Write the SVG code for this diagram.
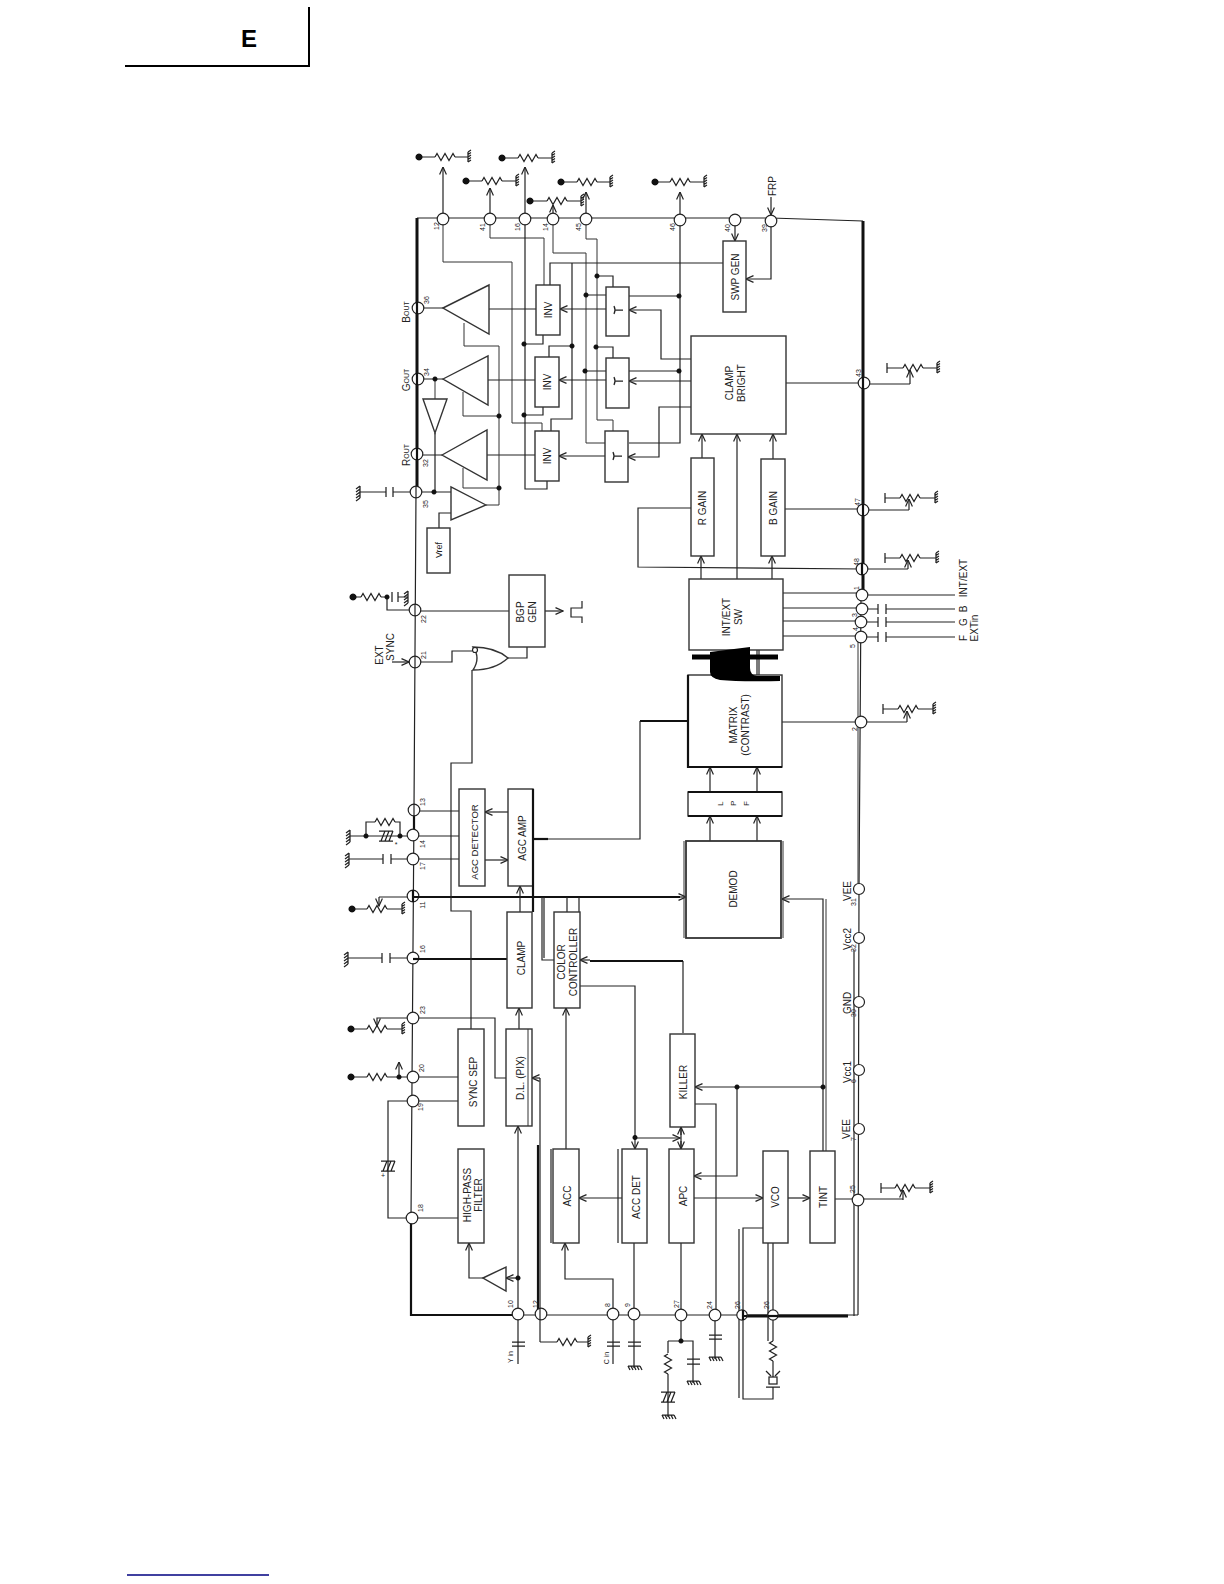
<svg xmlns="http://www.w3.org/2000/svg" xmlns:xlink="http://www.w3.org/1999/xlink" width="1224" height="1584" viewBox="0 0 1224 1584">
<style>
text{font-family:"Liberation Sans",Arial,sans-serif;fill:#222;text-anchor:middle;dominant-baseline:central;font-size:10px}
.n{font-size:7px}
.w,.a,.k,.f,.t{fill:none;stroke:#222;stroke-width:1.2}
.a{marker-end:url(#ar)}
.k{stroke-width:2.2;stroke:#111}
.t{stroke-width:3;stroke:#111}
.f{stroke-width:1;stroke:#333}
.b{fill:#fff;stroke:#333;stroke-width:1.4}
.p{fill:#fff;stroke:#222;stroke-width:1.2}
.d{fill:#111;stroke:none}
.s{fill:none;stroke:#222;stroke-width:1.25}
</style>
<defs>
<marker id="ar" markerUnits="userSpaceOnUse" viewBox="0 0 9 8" refX="8.5" refY="4" markerWidth="9" markerHeight="8" orient="auto"><path d="M1,.6 L8.5,4 L1,7.4" fill="none" stroke="#222" stroke-width="1.2"/></marker>
<path id="rz" class="s" d="M0,0 l2,-3.5 l4,7 l4,-7 l4,7 l4,-7 l2,3.5"/>
<path id="rv" class="s" d="M0,0 l-3.5,2 l7,4 l-7,4 l7,4 l-7,4 l3.5,2"/>
<path id="gr" class="s" d="M0,-5 V5 M0,-5 l3,-2 M0,-2.5 l3,-2 M0,0 l3,-2 M0,2.5 l3,-2 M0,5 l3,-2"/>
<path id="gl" class="s" d="M0,-6 V6 M0,-6 l-4,3 M0,-3 l-4,3 M0,0 l-4,3 M0,3 l-4,3 M0,6 l-4,3"/>
<path id="gb" class="s" d="M-6,0 H6 M-6,0 l2,4 M-3,0 l2,4 M0,0 l2,4 M3,0 l2,4 M6,0 l2,4"/>
<path id="hc" class="s" d="M-7,-5 H7 M-7,5 H7 M-5,5 L-1,-5 M-1,5 L3,-5 M3,5 L7,-5"/>
<path id="ts" class="s" d="M-4,-4 q2,4 0,8 M-3,0 H5"/>
<path id="tb" class="s" d="M0,-5 V5"/>
</defs>

<g id="header"><path d="M125,66 H309 V7" fill="none" stroke="#000" stroke-width="2"/><text x="249" y="38" style="font-size:24px;font-weight:bold;fill:#000">E</text></g>
<path id="footer-line" d="M127,1575 H269" fill="none" stroke="#000080" stroke-width="1.5"/>

<g id="connectors">
<!-- rails -->
<path class="w" d="M417,218 H771 L863,221"/>
<path class="t" d="M417,218 V492"/>
<path class="w" d="M416,492 L414,810 L411,1218 V1315 H858"/>
<path class="k" d="M414,810 V835 M411,1218 V1315 H520"/>
<path class="t" d="M863,221 V595"/>
<path class="w" d="M861,595 L859,889 L858,1315"/>
<path class="f" d="M858,640 V889"/>
<path class="t" d="M742,1316 H848"/>
<path class="w" d="M854,950 V1316"/>
<!-- top pin resistors -->
<path class="a" d="M443,219 V167"/><path class="w" d="M419,157 H435 M455,157 H468"/>
<path class="a" d="M490,219 V188"/><path class="w" d="M466,181 H482 M502,181 H516"/>
<path class="a" d="M525,219 V167"/><path class="w" d="M502,158 H518 M538,158 H552"/>
<path class="a" d="M553,219 V205"/><path class="w" d="M530,201 H547 M567,201 H581"/>
<path class="a" d="M586,219 V192"/><path class="w" d="M561,182 H577 M597,182 H610"/>
<path class="a" d="M680,220 V192"/><path class="w" d="M655,182 H670 M690,182 H704"/>
<path class="a" d="M771,197 V215"/>
<!-- top pin wiring -->
<path class="f" d="M443,219 V262 H512 V423 H542 V431"/>
<path class="f" d="M490,219 V238 H544 V285"/>
<path class="w" d="M525,219 V489 H547 V481"/>
<path class="w" d="M524,344 H543 V335 M524,415 H543 V407"/>
<path class="f" d="M553,219 V253 H586 V443 H605"/>
<path class="w" d="M586,295 H606 M585,371 H606"/>
<path class="f" d="M586,219 V239 H597 V420 H613 V431"/>
<path class="w" d="M597,276 H613 V287 M596,347 H613 V358"/>
<path class="w" d="M550,285 V263 H723"/>
<path class="w" d="M572,263 V419 H551 V431 M572,346 H549 V357"/>
<path class="w" d="M489,309 H536 M488,380 H535 M487,455 H535"/>
<path class="f" d="M464,323 V346 H499 V505 H486 M463,392 V416 H499 M463,468 V488 H499"/>
<path class="w" d="M418,308 H443 M418,379 H443 M417,455 H442"/>
<path class="f" d="M435,379 V399"/>
<path class="w" d="M435,433 V492 M416,492 H451 M439,528 V513 H451"/>
<path class="w" d="M360,492 H386 M393,492 H416"/>
<use href="#tb" x="386" y="492"/><use href="#tb" x="393" y="492"/><use href="#gl" x="360" y="492"/>
<path class="a" d="M606,309 H560"/><path class="a" d="M606,380 H559"/><path class="a" d="M605,456 H559"/>
<path class="a" d="M691,359 H661 V310 H629"/>
<path class="a" d="M691,381 H629"/>
<path class="a" d="M691,407 H659 V457 H628"/>
<path class="w" d="M680,220 V443 H629 M679,296 H629 M679,371 H629"/>
<path class="a" d="M735,220 V241"/>
<path class="a" d="M771,221 V279 H746"/>
<!-- right side resistors -->
<path class="w" d="M786,383 H864 M864,384 H910"/><path class="a" d="M910,384 V370"/><path class="w" d="M887,368 H903 M923,368 H937"/>
<path class="w" d="M785,509 H863 M863,510 H909"/><path class="a" d="M909,510 V499"/><path class="w" d="M885,498 H900 M920,498 H935"/>
<path class="w" d="M691,508 H638 V567 L862,569 H908"/><path class="a" d="M908,569 V560"/><path class="w" d="M885,558 H900 M920,558 H936"/>
<path class="w" d="M782,722 H861 H907"/><path class="a" d="M907,722 V711"/><path class="w" d="M883,709 H898 M918,709 H933"/>
<path class="w" d="M835,1199 H858 H903"/><path class="a" d="M903,1200 V1190"/><path class="w" d="M881,1188 H895 M915,1188 H930"/>
<path class="a" d="M702,458 V434"/><path class="a" d="M737,579 V434"/><path class="a" d="M773,459 V434"/>
<path class="a" d="M701,579 V556"/><path class="a" d="M772,579 V556"/>
<path class="w" d="M783,593 H862 M862,595 H955"/>
<path class="w" d="M783,608 H862 M862,609 H878 M886,609 H955"/>
<path class="w" d="M783,621 H861 M861,622 H878 M886,622 H955"/>
<path class="w" d="M783,636 H861 M861,637 H878 M886,637 H955"/>
<use href="#tb" x="878" y="609"/><use href="#tb" x="886" y="609"/><use href="#tb" x="878" y="622"/><use href="#tb" x="886" y="622"/><use href="#tb" x="878" y="637"/><use href="#tb" x="886" y="637"/>
<!-- centre chain -->
<path class="a" d="M710,792 V767"/><path class="a" d="M757,792 V767"/>
<path class="a" d="M710,841 V816"/><path class="a" d="M757,841 V816"/>
<path class="k" d="M688,721 H640"/><path class="w" d="M640,721 V839 H533"/><path class="k" d="M533,839 H548"/>
<path class="k" d="M413,897 H680"/><path class="a" d="M680,897 H686"/>
<path class="w" d="M757,650 V675 M759,650 V675"/>
<path class="a" d="M823,1151 V899 H782"/>
<path class="f" d="M826,899 V1151"/>
<path class="a" d="M823,1087 H695"/>
<path class="a" d="M737,1087 V1176 H694"/>
<path class="w" d="M695,1104 H716 V1315"/>
<path class="w" d="M683,1033 V961"/><path class="k" d="M683,961 H590"/><path class="a" d="M590,960 H580"/>
<path class="w" d="M580,986 H635 V1137"/><path class="a" d="M635,1137 V1149"/>
<path class="a" d="M635,1138 H680"/>
<path class="a" d="M681,1135 V1127"/><path class="a" d="M681,1141 V1149"/><path class="w" d="M681,1127 V1149"/>
<path class="a" d="M622,1198 H579"/>
<path class="a" d="M566,1149 V1008"/>
<path class="a" d="M613,1314 V1279 H565 V1243"/>
<path class="w" d="M634,1243 V1314 M681,1243 V1315"/>
<path class="a" d="M694,1198 H763"/><path class="a" d="M788,1198 H810"/>
<path class="w" d="M768,1243 V1341 M773,1243 V1341"/>
<path class="w" d="M763,1228 H743 V1399 H773 V1387 M739,1229 V1398"/>
<path class="w" d="M773,1361 V1377"/>
<path class="s" d="M766,1371 L771,1376 M780,1371 L775,1376 M766,1387 H780"/>
<rect x="769" y="1377" width="8" height="7" class="s"/>
<use href="#rv" x="773" y="1341"/>
<!-- bottom pins -->
<path class="w" d="M518,1314 V1364 M613,1314 V1364 M634,1314 V1368 M715,1315 V1359 M681,1315 V1341 M668,1341 H693 V1383 M668,1341 V1353 M668,1374 V1417"/>
<path class="s" d="M512,1342 H525 M512,1346 H525 M607,1342 H620 M607,1346 H620 M628,1342 H641 M628,1346 H641 M709,1335 H722 M709,1339 H722 M687,1359 H700 M687,1364 H700"/>
<use href="#gb" x="634" y="1366"/><use href="#gb" x="715" y="1357"/><use href="#gb" x="693" y="1381"/><use href="#gb" x="668" y="1415"/>
<use href="#rv" x="668" y="1354"/><use href="#hc" x="668" y="1397"/>
<path class="a" d="M518,1314 V1126"/>
<path class="a" d="M518,1278 H506"/>
<path class="a" d="M483,1278 H469 V1243"/>
<path class="w" d="M540,1342 V1078"/><path class="a" d="M540,1078 H532"/><path class="k" d="M538,1145 V1310"/>
<path class="w" d="M540,1342 H557 M577,1342 H588"/><use href="#gr" x="588" y="1342"/>
<!-- left side -->
<path class="w" d="M412,1218 H458 M412,1218 H388 V1101 H413 H458"/>
<use href="#hc" x="388" y="1166"/>
<path class="w" d="M413,1077 H458 M351,1077 H367 M387,1077 H413"/><path class="a" d="M399,1077 V1062"/>
<path class="w" d="M413,1018 H495 V1078 H506 M351,1029 H367 M387,1029 H402"/><path class="a" d="M413,1018 H377 V1026"/>
<path class="w" d="M382,958 H348 M390,958 H413"/><path class="k" d="M413,959 H507"/>
<use href="#tb" x="382" y="958"/><use href="#tb" x="390" y="958"/><use href="#gl" x="348" y="958"/>
<path class="w" d="M413,897 H379"/><path class="a" d="M379,897 V906"/><path class="w" d="M352,909 H367 M387,909 H402"/>
<path class="w" d="M471,1029 V911 H451 V763 H472 V670"/>
<path class="w" d="M542,897 V960 H554 M544,897 V958"/>
<path class="w" d="M567,897 V912 M579,897 V912"/>
<path class="a" d="M520,912 V886"/>
<path class="a" d="M519,1029 V1008"/>
<path class="w" d="M413,859 H459 M349,859 H383 M391,859 H413"/><use href="#tb" x="383" y="859"/><use href="#tb" x="391" y="859"/><use href="#gl" x="349" y="859"/>
<path class="w" d="M414,811 H459 M413,836 H459 M350,836 H413 M366,836 V822 H375 M395,822 H400 V836"/>
<use href="#gl" x="350" y="836"/><use href="#hc" x="386" y="836"/>
<path class="a" d="M508,812 H485"/><path class="a" d="M485,860 H508"/>
<path class="w" d="M415,662 H452 V651 H472"/>
<path class="a" d="M392,662 H409"/>
<path class="w" d="M508,658 H527 V647"/>
<path class="w" d="M415,611 H509"/>
<path class="a" d="M545,611 H563"/>
<path class="w" d="M582,601 V608 H571 V617 H582 V623"/>
<path class="w" d="M353,597 H361 M381,597 H387 V610 H415 M398,597 H408"/>
<use href="#tb" x="392" y="597"/><use href="#tb" x="398" y="597"/><use href="#gl" x="408" y="597"/>
</g>

<g id="passives">
<use href="#rz" x="435" y="157"/><use href="#gr" x="468" y="157"/>
<use href="#rz" x="482" y="181"/><use href="#gr" x="516" y="181"/>
<use href="#rz" x="518" y="158"/><use href="#gr" x="552" y="158"/>
<use href="#rz" x="547" y="201"/><use href="#gr" x="581" y="201"/>
<use href="#rz" x="577" y="182"/><use href="#gr" x="610" y="182"/>
<use href="#rz" x="670" y="182"/><use href="#gr" x="704" y="182"/>
<use href="#rz" x="903" y="368"/><use href="#gr" x="937" y="368"/><use href="#tb" x="887" y="368"/>
<use href="#rz" x="900" y="498"/><use href="#gr" x="935" y="498"/><use href="#tb" x="885" y="498"/>
<use href="#rz" x="900" y="558"/><use href="#gr" x="936" y="558"/><use href="#tb" x="885" y="558"/>
<use href="#rz" x="898" y="709"/><use href="#gr" x="933" y="709"/><use href="#tb" x="883" y="709"/>
<use href="#rz" x="895" y="1188"/><use href="#gr" x="930" y="1188"/><use href="#tb" x="881" y="1188"/>
<use href="#rz" x="367" y="909"/><use href="#gr" x="402" y="909"/>
<use href="#rz" x="367" y="1029"/><use href="#gr" x="402" y="1029"/>
<use href="#rz" x="367" y="1077"/>
<use href="#rz" x="361" y="597"/>
<use href="#rz" x="375" y="822"/>
<use href="#rz" x="557" y="1342"/>
<path class="d" d="M419,153.5a3.5,3.5 0 1,0 .01,0z M466,177.5a3.5,3.5 0 1,0 .01,0z M502,154.5a3.5,3.5 0 1,0 .01,0z M530,197.5a3.5,3.5 0 1,0 .01,0z M561,178.5a3.5,3.5 0 1,0 .01,0z M655,178.5a3.5,3.5 0 1,0 .01,0z M353,593.5a3.5,3.5 0 1,0 .01,0z M352,905.5a3.5,3.5 0 1,0 .01,0z M351,1025.5a3.5,3.5 0 1,0 .01,0z M351,1073.5a3.5,3.5 0 1,0 .01,0z"/>
<path class="d" d="M387,594.5a2.5,2.5 0 1,0 .01,0z M366,833.5a2.5,2.5 0 1,0 .01,0z M400,833.5a2.5,2.5 0 1,0 .01,0z M399,1074.5a2.5,2.5 0 1,0 .01,0z M524,341.5a2.5,2.5 0 1,0 .01,0z M524,412.5a2.5,2.5 0 1,0 .01,0z M572,343.5a2.5,2.5 0 1,0 .01,0z M597,273.5a2.5,2.5 0 1,0 .01,0z M596,344.5a2.5,2.5 0 1,0 .01,0z M586,292.5a2.5,2.5 0 1,0 .01,0z M585,368.5a2.5,2.5 0 1,0 .01,0z M679,293.5a2.5,2.5 0 1,0 .01,0z M679,368.5a2.5,2.5 0 1,0 .01,0z M499,413.5a2.5,2.5 0 1,0 .01,0z M499,485.5a2.5,2.5 0 1,0 .01,0z M435,376.5a2.5,2.5 0 1,0 .01,0z M434,489.5a2.5,2.5 0 1,0 .01,0z M518,1275.5a2.5,2.5 0 1,0 .01,0z M635,1135a2.5,2.5 0 1,0 .01,0z M737,1084.5a2.5,2.5 0 1,0 .01,0z M823,1084.5a2.5,2.5 0 1,0 .01,0z M681,1338.5a2.5,2.5 0 1,0 .01,0z"/>
<text x="396" y="844" class="n">*</text>
<text x="383" y="1175" class="n">+</text>
</g>

<g id="amp-b"><path class="b" d="M443,308 L489,285 V334 Z"/></g>
<g id="amp-g"><path class="b" d="M443,379 L488,356 V405 Z"/></g>
<g id="amp-r"><path class="b" d="M442,455 L487,430 V480 Z"/></g>
<g id="buffer"><path class="b" d="M423,399 H447 L435,433 Z"/></g>
<g id="amp-ref"><path class="b" d="M486,505 L451,487 V520 Z"/></g>
<g id="hp-buffer"><path class="b" d="M483,1278 L506,1267 V1291 Z"/></g>
<g id="or-gate"><path class="b" d="M473,647 Q495,647 508,658 Q495,670 473,670 Q481,658 473,647 Z"/><circle cx="475" cy="650" r="2.5" class="p"/></g>

<g id="inv-b"><rect class="b" x="536" y="285" width="24" height="50"/><text transform="translate(548,310) rotate(-90)">INV</text></g>
<g id="inv-g"><rect class="b" x="535" y="357" width="24" height="50"/><text transform="translate(547,382) rotate(-90)">INV</text></g>
<g id="inv-r"><rect class="b" x="535" y="431" width="24" height="50"/><text transform="translate(547,456) rotate(-90)">INV</text></g>
<g id="t-b"><rect class="b" x="606" y="287" width="23" height="49"/><use href="#ts" x="618" y="310"/></g>
<g id="t-g"><rect class="b" x="606" y="358" width="23" height="50"/><use href="#ts" x="618" y="381"/></g>
<g id="t-r"><rect class="b" x="605" y="431" width="23" height="51"/><use href="#ts" x="617" y="456"/></g>
<g id="vref"><rect class="b" x="427" y="528" width="23" height="45"/><text transform="translate(439,550) rotate(-90)" style="font-size:9px">Vref</text></g>
<g id="bgp-gen"><rect class="b" x="509" y="575" width="36" height="72"/><text transform="translate(526,612) rotate(-90)"><tspan x="0" y="-6">BGP</tspan><tspan x="0" y="6">GEN</tspan></text></g>
<g id="agc-detector"><rect class="b" x="459" y="789" width="26" height="97"/><text transform="translate(474,842) rotate(-90)" style="font-size:9.5px">AGC DETECTOR</text></g>
<g id="agc-amp"><rect class="b" x="508" y="789" width="25" height="97"/><path class="k" d="M533,789 V912"/><text transform="translate(522,838) rotate(-90)">AGC  AMP</text></g>
<g id="clamp"><rect class="b" x="507" y="912" width="25" height="96"/><text transform="translate(521,958) rotate(-90)">CLAMP</text></g>
<g id="color-controller"><rect class="b" x="554" y="912" width="26" height="96"/><text transform="translate(567,962) rotate(-90)"><tspan x="0" y="-6">COLOR</tspan><tspan x="0" y="6">CONTROLLER</tspan></text></g>
<g id="sync-sep"><rect class="b" x="458" y="1029" width="26" height="97"/><text transform="translate(473,1082) rotate(-90)">SYNC  SEP</text></g>
<g id="dl-pix"><rect class="b" x="506" y="1029" width="26" height="97"/><path class="f" d="M528,1029 V1126"/><text transform="translate(520,1078) rotate(-90)">D.L. (PIX)</text></g>
<g id="hpf"><rect class="b" x="458" y="1149" width="26" height="94"/><text transform="translate(472,1195) rotate(-90)"><tspan x="0" y="-5.5">HIGH-PASS</tspan><tspan x="0" y="5.5">FILTER</tspan></text></g>
<g id="acc"><rect class="b" x="553" y="1149" width="26" height="94"/><path class="w" d="M551,1149 V1243"/><text transform="translate(567,1196) rotate(-90)">ACC</text></g>
<g id="acc-det"><rect class="b" x="622" y="1149" width="25" height="94"/><path class="w" d="M618,1149 V1243"/><text transform="translate(636,1197) rotate(-90)">ACC  DET</text></g>
<g id="apc"><rect class="b" x="669" y="1149" width="25" height="94"/><text transform="translate(683,1196) rotate(-90)">APC</text></g>
<g id="killer"><rect class="b" x="670" y="1034" width="25" height="93"/><text transform="translate(683,1082) rotate(-90)">KILLER</text></g>
<g id="vco"><rect class="b" x="763" y="1151" width="25" height="92"/><text transform="translate(775,1197) rotate(-90)">VCO</text></g>
<g id="tint"><rect class="b" x="810" y="1151" width="25" height="92"/><text transform="translate(823,1197) rotate(-90)">TINT</text></g>
<g id="demod"><rect class="b" x="686" y="841" width="95" height="97" style="stroke-width:1.8"/><path class="f" d="M684,841 V938 M783,841 V938"/><text transform="translate(733,889) rotate(-90)">DEMOD</text></g>
<g id="lpf"><rect class="b" x="688" y="792" width="94" height="24"/><path class="k" d="M688,792 H782 M688,816 H782"/><text x="723 729 736 742 749" y="806" rotate="-90" style="text-anchor:start;dominant-baseline:auto;font-size:8px">L P F</text></g>
<g id="matrix"><rect class="b" x="688" y="675" width="94" height="92"/><path class="k" d="M688,675 V767 H782"/><text transform="translate(739,725) rotate(-90)"><tspan x="0" y="-6">MATRIX</tspan><tspan x="0" y="6">(CONTRAST)</tspan></text></g>
<g id="intext-sw"><rect class="b" x="689" y="579" width="94" height="71"/><text transform="translate(732,617) rotate(-90)"><tspan x="0" y="-6">INT/EXT</tspan><tspan x="0" y="6">SW</tspan></text></g>
<g id="r-gain"><rect class="b" x="691" y="458" width="23" height="98"/><text transform="translate(702,508) rotate(-90)">R  GAIN</text></g>
<g id="b-gain"><rect class="b" x="761" y="459" width="24" height="97"/><text transform="translate(773,508) rotate(-90)">B  GAIN</text></g>
<g id="clamp-bright"><rect class="b" x="691" y="336" width="95" height="98"/><text transform="translate(735,383) rotate(-90)"><tspan x="0" y="-6">CLAMP</tspan><tspan x="0" y="6">BRIGHT</tspan></text></g>
<g id="swp-gen"><rect class="b" x="723" y="241" width="23" height="71"/><text transform="translate(735,277) rotate(-90)">SWP  GEN</text></g>
<g id="blob"><path d="M692,657 H778" stroke="#000" stroke-width="5" fill="none"/><path d="M710,652 L750,647 V668 Q750,675 757,676 H780 V681 Q740,682 720,680 Q710,678 710,672 Z" fill="#000"/></g>

<g id="pin-top-12"><circle class="p" cx="443" cy="219" r="5.8"/><text class="n" transform="translate(436,226) rotate(-90)">12</text></g>
<g id="pin-41"><circle class="p" cx="490" cy="219" r="5.8"/><text class="n" transform="translate(482,227) rotate(-90)">41</text></g>
<g id="pin-16-top"><circle class="p" cx="525" cy="219" r="5.8"/><text class="n" transform="translate(517,227) rotate(-90)">16</text></g>
<g id="pin-14-top"><circle class="p" cx="553" cy="219" r="5.8"/><text class="n" transform="translate(545,227) rotate(-90)">14</text></g>
<g id="pin-45"><circle class="p" cx="586" cy="219" r="5.8"/><text class="n" transform="translate(578,227) rotate(-90)">45</text></g>
<g id="pin-46"><circle class="p" cx="680" cy="220" r="5.8"/><text class="n" transform="translate(672,227) rotate(-90)">46</text></g>
<g id="pin-40"><circle class="p" cx="735" cy="220" r="5.8"/><text class="n" transform="translate(727,228) rotate(-90)">40</text></g>
<g id="pin-39"><circle class="p" cx="771" cy="221" r="5.8"/><text class="n" transform="translate(764,228) rotate(-90)">39</text><text transform="translate(772,186) rotate(-90)">FRP</text></g>
<g id="pin-36"><circle class="p" cx="418" cy="308" r="5.8"/><path class="k" d="M417,302 V314"/><text class="n" transform="translate(426,300) rotate(-90)">36</text><text transform="translate(406,312) rotate(-90)">B<tspan style="font-size:7px">OUT</tspan></text></g>
<g id="pin-34"><circle class="p" cx="418" cy="379" r="5.8"/><path class="k" d="M417,373 V385"/><text class="n" transform="translate(426,372) rotate(-90)">34</text><text transform="translate(406,380) rotate(-90)">G<tspan style="font-size:7px">OUT</tspan></text></g>
<g id="pin-32-top"><circle class="p" cx="417" cy="454" r="5.8"/><path class="k" d="M417,448 V460"/><text class="n" transform="translate(425,463) rotate(-90)">32</text><text transform="translate(406,455) rotate(-90)">R<tspan style="font-size:7px">OUT</tspan></text></g>
<g id="pin-35"><circle class="p" cx="416" cy="492" r="5.8"/><path class="w" d="M416,486 V498"/><text class="n" transform="translate(425,504) rotate(-90)">35</text></g>
<g id="pin-22"><circle class="p" cx="415" cy="610" r="5.8"/><path class="w" d="M415,604 V616"/><text class="n" transform="translate(423,619) rotate(-90)">22</text></g>
<g id="pin-21"><circle class="p" cx="415" cy="662" r="5.8"/><path class="w" d="M415,656 V668"/><text class="n" transform="translate(423,655) rotate(-90)">21</text><text transform="translate(384,650) rotate(-90)"><tspan x="-5" y="-5.5">EXT</tspan><tspan x="3" y="5.5">SYNC</tspan></text></g>
<g id="pin-13"><circle class="p" cx="414" cy="810" r="5.8"/><path class="w" d="M414,804 V816"/><text class="n" transform="translate(422,802) rotate(-90)">13</text></g>
<g id="pin-14"><circle class="p" cx="413" cy="835" r="5.8"/><text class="n" transform="translate(422,844) rotate(-90)">14</text></g>
<g id="pin-17"><circle class="p" cx="413" cy="859" r="5.8"/><text class="n" transform="translate(422,866) rotate(-90)">17</text></g>
<g id="pin-11"><circle class="p" cx="413" cy="896" r="5.8"/><path class="k" d="M413,890 V902 M413,897 H419"/><text class="n" transform="translate(422,905) rotate(-90)">11</text></g>
<g id="pin-16"><circle class="p" cx="413" cy="958" r="5.8"/><path class="k" d="M413,959 H419"/><text class="n" transform="translate(422,949) rotate(-90)">16</text></g>
<g id="pin-23"><circle class="p" cx="413" cy="1018" r="5.8"/><text class="n" transform="translate(422,1010) rotate(-90)">23</text></g>
<g id="pin-20"><circle class="p" cx="413" cy="1077" r="5.8"/><text class="n" transform="translate(421,1068) rotate(-90)">20</text></g>
<g id="pin-19"><circle class="p" cx="413" cy="1101" r="5.8"/><text class="n" transform="translate(420,1107) rotate(-90)">19</text></g>
<g id="pin-18"><circle class="p" cx="412" cy="1218" r="5.8"/><text class="n" transform="translate(420,1208) rotate(-90)">18</text></g>
<g id="pin-10"><circle class="p" cx="518" cy="1314" r="5.8"/><text class="n" transform="translate(510,1304) rotate(-90)">10</text><text class="n" transform="translate(510,1357) rotate(-90)">Y in</text></g>
<g id="pin-12"><circle class="p" cx="541" cy="1314" r="5.8"/><path class="w" d="M540,1308 V1320"/><text class="n" transform="translate(535,1304) rotate(-90)">12</text></g>
<g id="pin-8"><circle class="p" cx="613" cy="1314" r="5.8"/><text class="n" transform="translate(607,1305) rotate(-90)">8</text><text class="n" transform="translate(606,1358) rotate(-90)">C in</text></g>
<g id="pin-9"><circle class="p" cx="634" cy="1314" r="5.8"/><text class="n" transform="translate(627,1305) rotate(-90)">9</text></g>
<g id="pin-27"><circle class="p" cx="681" cy="1315" r="5.8"/><text class="n" transform="translate(676,1304) rotate(-90)">27</text></g>
<g id="pin-24"><circle class="p" cx="715" cy="1315" r="5.8"/><text class="n" transform="translate(709,1305) rotate(-90)">24</text></g>
<g id="pin-26a"><circle class="p" cx="742" cy="1315" r="5.2"/><path class="k" d="M742,1316 H747 M743,1310 V1320"/><text class="n" transform="translate(737,1305) rotate(-90)">26</text></g>
<g id="pin-26b"><circle class="p" cx="773" cy="1315" r="5.2"/><path class="k" d="M768,1316 H778"/><text class="n" transform="translate(766,1305) rotate(-90)">26</text></g>
<g id="pin-43"><circle class="p" cx="864" cy="383" r="5.8"/><path class="k" d="M863,377 V389"/><text class="n" transform="translate(858,373) rotate(-90)">43</text></g>
<g id="pin-47"><circle class="p" cx="863" cy="510" r="5.8"/><path class="k" d="M863,504 V516"/><text class="n" transform="translate(857,502) rotate(-90)">47</text></g>
<g id="pin-48"><circle class="p" cx="862" cy="569" r="5.8"/><path class="k" d="M862,563 V575"/><text class="n" transform="translate(856,562) rotate(-90)">48</text></g>
<g id="pin-1"><circle class="p" cx="862" cy="595" r="5.8"/><text class="n" transform="translate(856,588) rotate(-90)">1</text><text transform="translate(963,578) rotate(-90)">INT/EXT</text></g>
<g id="pin-3"><circle class="p" cx="862" cy="609" r="5.8"/><text class="n" transform="translate(854,615) rotate(-90)">3</text><text transform="translate(963,609) rotate(-90)">B</text></g>
<g id="pin-4"><circle class="p" cx="861" cy="622" r="5.8"/><text class="n" transform="translate(855,629) rotate(-90)">4</text><text transform="translate(963,622) rotate(-90)">G</text></g>
<g id="pin-5"><circle class="p" cx="861" cy="637" r="5.8"/><text class="n" transform="translate(852,646) rotate(-90)">5</text><text transform="translate(963,638) rotate(-90)">F</text><text transform="translate(974,628) rotate(-90)">EXTin</text></g>
<g id="pin-2"><circle class="p" cx="861" cy="722" r="5.8"/><text class="n" transform="translate(854,729) rotate(-90)">2</text></g>
<g id="pin-31"><circle class="p" cx="859" cy="889" r="5.5"/><text class="n" transform="translate(853,902) rotate(-90)">31</text><text transform="translate(847,891) rotate(-90)">VEE</text></g>
<g id="pin-32"><circle class="p" cx="859" cy="938" r="5.5"/><text class="n" transform="translate(853,948) rotate(-90)">32</text><text transform="translate(847,939) rotate(-90)">Vcc2</text></g>
<g id="pin-30"><circle class="p" cx="859" cy="1002" r="5.5"/><text class="n" transform="translate(853,1013) rotate(-90)">30</text><text transform="translate(847,1003) rotate(-90)">GND</text></g>
<g id="pin-6"><circle class="p" cx="859" cy="1070" r="5.5"/><text class="n" transform="translate(853,1081) rotate(-90)">6</text><text transform="translate(847,1072) rotate(-90)">Vcc1</text></g>
<g id="pin-7"><circle class="p" cx="859" cy="1129" r="5.5"/><text class="n" transform="translate(853,1139) rotate(-90)">7</text><text transform="translate(846,1129) rotate(-90)">VEE</text></g>
<g id="pin-25"><circle class="p" cx="858" cy="1200" r="5.8"/><text class="n" transform="translate(852,1189) rotate(-90)">25</text></g>
</svg>
